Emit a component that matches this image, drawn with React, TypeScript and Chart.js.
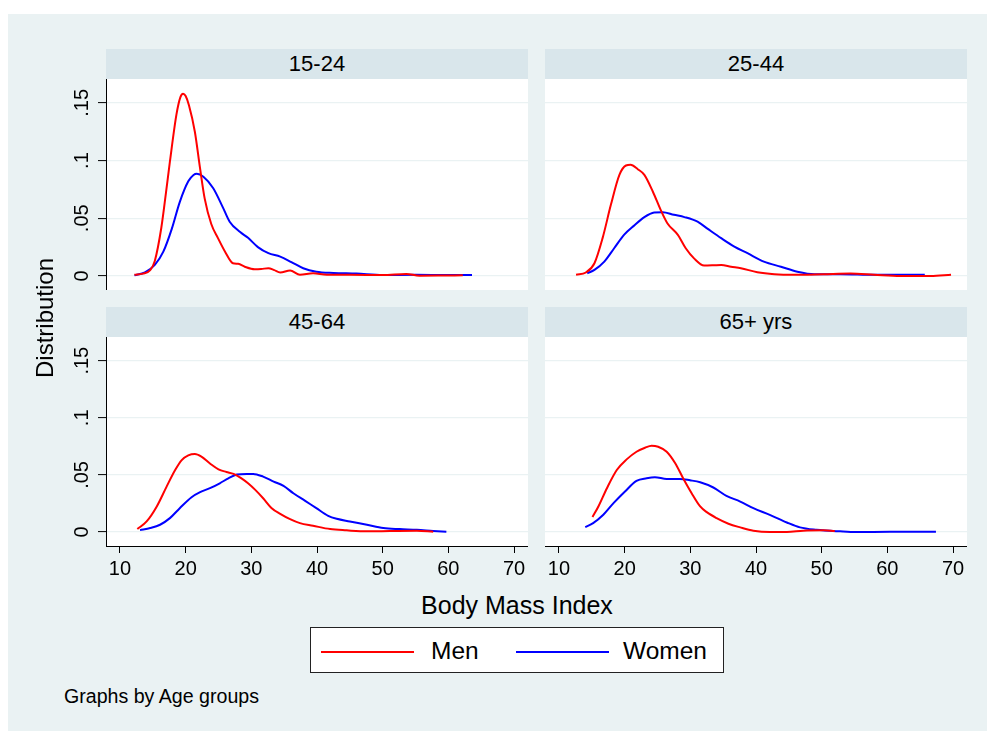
import { useEffect, useRef } from "react";
import { Chart, registerables } from "chart.js";

Chart.register(...registerables);

const FONT = "'Liberation Sans', Arial, Helvetica, sans-serif";

// ---- data ----
const AGE_GROUPS = ["15-24", "25-44", "45-64", "65+ yrs"];
const SERIES_LABELS = ["Men", "Women"];
const X_TICKS = [10, 20, 30, 40, 50, 60, 70];
const Y_TICKS = [0, 0.05, 0.1, 0.15];
const Y_TICK_LABELS = ["0", ".05", ".1", ".15"];
const X_RANGE = [7.87, 72.13];
const Y_RANGE = [-0.0122, 0.1707];
const X_TITLE = "Body Mass Index";
const Y_TITLE = "Distribution";
const NOTE = "Graphs by Age groups";

const MEN_15_24: [number, number][] = [
  [12.2, 0.001], [13.5, 0.002], [14.6, 0.005], [15.3, 0.013], [16.3, 0.042], [17.0, 0.072],
  [17.6, 0.099], [18.6, 0.14], [19.2, 0.155], [19.6, 0.158], [20.0, 0.156], [20.5, 0.148],
  [21.4, 0.125], [22.2, 0.093], [22.9, 0.067], [23.9, 0.045], [24.9, 0.033], [26.0, 0.021],
  [27.2, 0.011], [28.0, 0.0105], [29.0, 0.008], [30.5, 0.0058], [31.5, 0.006], [32.6, 0.0067],
  [33.5, 0.005], [34.4, 0.003], [35.9, 0.0046], [37.4, 0.001], [39.4, 0.0023], [41.5, 0.001],
  [45, 0.001], [50, 0.0008], [53.6, 0.0017], [55.6, 0.0002], [58.7, 0.0003], [62.2, 0.0005],
];
const WOMEN_15_24: [number, number][] = [
  [12.2, 0.0005], [13.8, 0.003], [15.3, 0.0095], [16.6, 0.021], [17.9, 0.041], [19.1, 0.064],
  [20.4, 0.082], [21.2, 0.0875], [21.7, 0.0885], [22.7, 0.086], [24.2, 0.076], [25.7, 0.059],
  [26.7, 0.047], [28.3, 0.038], [29.5, 0.033], [31.0, 0.025], [32.6, 0.0197], [34.4, 0.0167],
  [36.1, 0.012], [37.9, 0.0067], [39.9, 0.0037], [42.5, 0.0026], [46, 0.002], [50, 0.0008],
  [55, 0.001], [60, 0.0008], [63.6, 0.0008],
];
const MEN_25_44: [number, number][] = [
  [12.6, 0.001], [14.1, 0.003], [15.4, 0.011], [16.65, 0.033], [17.9, 0.0616], [19.2, 0.0876],
  [20.2, 0.0957], [20.9, 0.0963], [22.0, 0.0925], [23.0, 0.0876], [24.3, 0.073], [25.5, 0.057],
  [26.5, 0.0457], [28.1, 0.0356], [29.3, 0.024], [30.6, 0.015], [32.1, 0.009], [33.5, 0.0092],
  [34.7, 0.0095], [36.2, 0.008], [37.7, 0.0067], [40.2, 0.0032], [42.8, 0.0015], [45.8, 0.001],
  [50.3, 0.0015], [54.4, 0.002], [58, 0.001], [62, 0.0], [66.6, 0.0], [69.7, 0.001],
];
const WOMEN_25_44: [number, number][] = [
  [14.3, 0.0023], [15.4, 0.0052], [16.9, 0.0124], [18.4, 0.024], [19.9, 0.0356], [21.5, 0.044],
  [23, 0.051], [24.5, 0.055], [25.8, 0.0553], [27.5, 0.053], [29.1, 0.051], [31.1, 0.047],
  [32.6, 0.041], [34.7, 0.0327], [36.7, 0.0254], [38.7, 0.0197], [41.2, 0.0124], [43.8, 0.008],
  [46.3, 0.0037], [48.9, 0.0015], [52.9, 0.0015], [58, 0.001], [65.7, 0.001],
];
const MEN_45_64: [number, number][] = [
  [12.64, 0.0026], [14.06, 0.0093], [15.6, 0.0224], [17.1, 0.0398], [18.4, 0.0543], [19.4, 0.063],
  [20.4, 0.0671], [21.4, 0.0683], [22.4, 0.066], [23.7, 0.06], [25.0, 0.0549], [26.2, 0.0526],
  [27.3, 0.0509], [28.5, 0.047], [29.5, 0.0427], [30.6, 0.0369], [31.8, 0.0296], [33.1, 0.0209],
  [34.4, 0.016], [35.9, 0.0113], [37.4, 0.0078], [39.4, 0.0055], [42.0, 0.0026], [44.5, 0.0015],
  [47.6, 0.0006], [51.1, 0.0009], [55.2, 0.0012], [57.7, 0.0003],
];
const WOMEN_45_64: [number, number][] = [
  [13.05, 0.0017], [14.6, 0.0035], [16.1, 0.0064], [17.6, 0.0122], [19.1, 0.0209], [20.9, 0.0305],
  [22.2, 0.0349], [23.7, 0.0384], [25.2, 0.0427], [26.5, 0.047], [27.8, 0.0503], [29.3, 0.0509],
  [30.3, 0.0509], [31.8, 0.0485], [33.4, 0.0442], [34.9, 0.0404], [36.4, 0.034], [38.2, 0.0273],
  [39.9, 0.0209], [41.7, 0.0142], [43.0, 0.0116], [45.0, 0.0093], [47.6, 0.0064], [50.1, 0.0035],
  [52.6, 0.0026], [55.2, 0.002], [57.7, 0.0009], [59.7, 0.0002],
];
const MEN_65_PLUS: [number, number][] = [
  [15.1, 0.0131], [16.0, 0.0224], [17.3, 0.0384], [18.8, 0.0543], [20.3, 0.0636], [21.8, 0.0703],
  [23.1, 0.0738], [24.1, 0.0756], [25.1, 0.0747], [26.4, 0.0703], [27.7, 0.0602], [28.9, 0.0471],
  [30.2, 0.034], [31.5, 0.0224], [32.5, 0.0174], [34.0, 0.0122], [35.8, 0.0073], [37.6, 0.0041],
  [39.6, 0.0012], [42.1, 0.0], [44.7, 0.0], [47.2, 0.0012], [50.3, 0.0015], [52.0, 0.001],
];
const WOMEN_65_PLUS: [number, number][] = [
  [14.0, 0.0044], [15.2, 0.0078], [16.75, 0.0151], [18.3, 0.0253], [20.05, 0.0355], [21.8, 0.0448],
  [23.35, 0.0471], [24.6, 0.048], [26.4, 0.0465], [28.4, 0.0465], [29.95, 0.0453], [31.5, 0.0436],
  [33.5, 0.039], [35.5, 0.0317], [37.6, 0.0267], [39.6, 0.0209], [42.1, 0.0151], [44.7, 0.0084],
  [46.7, 0.0041], [49.2, 0.002], [52.8, 0.0006], [55.3, 0.0], [60.4, 0.0003], [67.4, 0.0003],
];

const MEN_SERIES = [MEN_15_24, MEN_25_44, MEN_45_64, MEN_65_PLUS];
const WOMEN_SERIES = [WOMEN_15_24, WOMEN_25_44, WOMEN_45_64, WOMEN_65_PLUS];

// ---- styling / layout ----
const COLORS = ["#ff0000", "#0000ff"];
const BG = "#eaf2f3";
const STRIP = "#d9e6eb";
const Y_AXIS_W = 60;
const X_AXIS_H = 40;

const plotBg = {
  id: "plotBg",
  beforeDraw(chart: any) {
    const { ctx, chartArea: a } = chart;
    ctx.save();
    ctx.fillStyle = "#ffffff";
    ctx.fillRect(a.left, a.top, a.right - a.left, a.bottom - a.top);
    ctx.restore();
  },
};

type PanelProps = {
  index: number;
  plotLeft: number;
  plotTop: number;
  plotW: number;
  plotH: number;
  showY: boolean;
  showX: boolean;
};

function Panel({ index, plotLeft, plotTop, plotW, plotH, showY, showX }: PanelProps) {
  const ref = useRef<HTMLCanvasElement | null>(null);
  const cw = plotW + (showY ? Y_AXIS_W : 0);
  const ch = plotH + (showX ? X_AXIS_H : 0);
  const cl = plotLeft - (showY ? Y_AXIS_W : 0);

  useEffect(() => {
    if (!ref.current) return;
    const series = [MEN_SERIES[index], WOMEN_SERIES[index]];
    const chart = new Chart(ref.current, {
      type: "line",
      data: {
        datasets: series.map((s, i) => ({
          label: SERIES_LABELS[i],
          data: s.map(([x, y]) => ({ x, y })),
          borderColor: COLORS[i],
          backgroundColor: COLORS[i],
          borderWidth: 2,
          pointRadius: 0,
          fill: false,
          tension: 0.4,
          cubicInterpolationMode: "monotone",
        })),
      },
      options: {
        animation: false,
        responsive: false,
        events: [],
        layout: { padding: 0 },
        plugins: { legend: { display: false }, tooltip: { enabled: false }, title: { display: false } },
        scales: {
          x: {
            type: "linear",
            min: X_RANGE[0],
            max: X_RANGE[1],
            display: showX,
            afterBuildTicks: (s: any) => {
              s.ticks = X_TICKS.map((v) => ({ value: v }));
            },
            afterFit: (s: any) => {
              s.height = showX ? X_AXIS_H : 0;
              s.paddingLeft = 0;
              s.paddingRight = 0;
            },
            ticks: {
              autoSkip: false,
              maxRotation: 0,
              minRotation: 0,
              padding: 4,
              color: "#000",
              font: { family: FONT, size: 20 },
              callback: (_v: any, i: number) => String(X_TICKS[i]),
            },
            grid: { drawOnChartArea: false, drawTicks: true, tickLength: 7, tickColor: "#000", tickWidth: 1 },
            border: { display: true, color: "#000", width: 1 },
          },
          y: {
            type: "linear",
            min: Y_RANGE[0],
            max: Y_RANGE[1],
            afterBuildTicks: (s: any) => {
              s.ticks = Y_TICKS.map((v) => ({ value: v }));
            },
            afterFit: (s: any) => {
              s.width = showY ? Y_AXIS_W : 0;
              s.paddingTop = 0;
              s.paddingBottom = 0;
            },
            ticks: {
              display: showY,
              minRotation: 90,
              maxRotation: 90,
              crossAlign: "center",
              padding: 2,
              color: "#000",
              font: { family: FONT, size: 20 },
              callback: (_v: any, i: number) => Y_TICK_LABELS[i],
            },
            grid: {
              color: BG,
              lineWidth: 1.2,
              drawTicks: showY,
              tickLength: 8,
              tickColor: "#000",
              tickWidth: 1,
            },
            border: { display: showY, color: "#000", width: 1 },
          },
        },
      } as any,
      plugins: [plotBg],
    });
    return () => chart.destroy();
  }, [index, showX, showY]);

  return (
    <>
      <div
        style={{
          position: "absolute",
          left: plotLeft,
          top: plotTop - 30,
          width: plotW,
          height: 30,
          background: STRIP,
          fontFamily: FONT,
          fontSize: 22,
          lineHeight: "30px",
          textAlign: "center",
          color: "#000",
        }}
      >
        {AGE_GROUPS[index]}
      </div>
      <canvas
        ref={ref}
        width={cw}
        height={ch}
        style={{ position: "absolute", left: cl, top: plotTop, width: cw, height: ch, display: "block" }}
      />
    </>
  );
}

export default function App() {
  const panels: PanelProps[] = [
    { index: 0, plotLeft: 106, plotTop: 79, plotW: 422, plotH: 211, showY: true, showX: false },
    { index: 1, plotLeft: 545, plotTop: 79, plotW: 422, plotH: 211, showY: false, showX: false },
    { index: 2, plotLeft: 106, plotTop: 337, plotW: 422, plotH: 209, showY: true, showX: true },
    { index: 3, plotLeft: 545, plotTop: 337, plotW: 422, plotH: 209, showY: false, showX: true },
  ];
  return (
    <div style={{ position: "absolute", left: 0, top: 0, width: 987, height: 731, background: "#fff", overflow: "hidden" }}>
      <div style={{ position: "absolute", left: 8, top: 14, width: 979, height: 717, background: BG }} />
      {panels.map((p) => (
        <Panel key={p.index} {...p} />
      ))}
      <div
        style={{
          position: "absolute",
          left: 45 - 100,
          top: 318 - 15,
          width: 200,
          height: 30,
          lineHeight: "30px",
          textAlign: "center",
          transform: "rotate(-90deg)",
          fontFamily: FONT,
          fontSize: 24,
          color: "#000",
        }}
      >
        {Y_TITLE}
      </div>
      <div
        style={{
          position: "absolute",
          left: 517 - 150,
          top: 605 - 15,
          width: 300,
          height: 30,
          lineHeight: "30px",
          textAlign: "center",
          fontFamily: FONT,
          fontSize: 25,
          color: "#000",
        }}
      >
        {X_TITLE}
      </div>
      <div
        style={{
          position: "absolute",
          left: 310,
          top: 627,
          width: 412,
          height: 44,
          background: "#fff",
          border: "1px solid #222",
          fontFamily: FONT,
          fontSize: 24.5,
          color: "#000",
        }}
      >
        {SERIES_LABELS.map((lab, i) => (
          <div key={lab}>
            <div
              style={{
                position: "absolute",
                left: 10 + i * 195,
                top: 23,
                width: 93,
                height: 2,
                background: COLORS[i],
              }}
            />
            <div style={{ position: "absolute", left: 120 + i * 192, top: 8, lineHeight: "30px" }}>{lab}</div>
          </div>
        ))}
      </div>
      <div
        style={{
          position: "absolute",
          left: 64,
          top: 684,
          lineHeight: "24px",
          fontFamily: FONT,
          fontSize: 19.6,
          color: "#000",
        }}
      >
        {NOTE}
      </div>
    </div>
  );
}
